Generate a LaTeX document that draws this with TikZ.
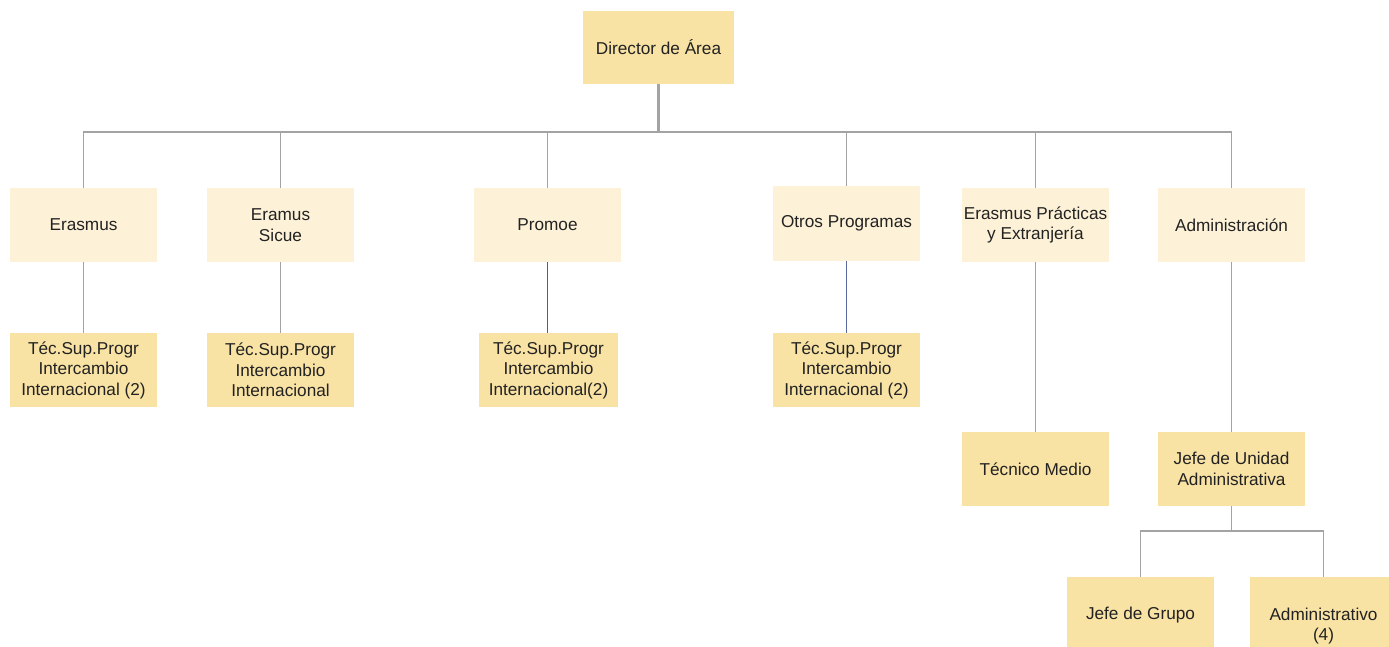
\documentclass[tikz,border=0pt]{standalone}
\usepackage{fontspec}
\setmainfont{Liberation Sans}
\definecolor{darkbox}{HTML}{F8E2A4}
\definecolor{lightbox}{HTML}{FDF2D7}
\definecolor{lineg}{HTML}{A3A3A3}
\definecolor{lineb}{HTML}{3D5FC4}
\definecolor{lineb2}{HTML}{5A6A9E}
\definecolor{txt}{HTML}{222222}
\begin{document}
\begin{tikzpicture}[x=1pt,y=-1pt,
  box/.style={inner sep=0pt, minimum width=147pt, minimum height=74pt, align=center, text=txt,
    font=\fontsize{17.2}{20.5}\selectfont},
  dbox/.style={box, fill=darkbox},
  lbox/.style={box, fill=lightbox},
  conn/.style={draw=lineg, line width=1.6pt},
  connb/.style={draw=lineb, line width=1.4pt},
  connb2/.style={draw=lineb2, line width=1.4pt}]
\useasboundingbox (0,0) rectangle (1389,647);
% top
\node[dbox, minimum width=151pt, minimum height=73pt] (dir) at (658.5,47.5) {Director de Área};
% row 1
\node[lbox] (era) at (83.5,225) {Erasmus};
\node[lbox] (sic) at (280.5,225) {Eramus\\Sicue};
\node[lbox] (pro) at (547.5,225) {Promoe};
\node[lbox] (otr) at (846.5,223.5) {Otros Programas};
\node[lbox] (pra) at (1035.5,225) {Erasmus Prácticas\\y Extranjería};
\node[lbox] (adm) at (1231.5,225) {Administración};
% row 2
\node[dbox] (t1) at (83.5,370) {Téc.Sup.Progr\\Intercambio\\Internacional (2)};
\node[dbox] (t2) at (280.5,370) {Téc.Sup.Progr\\Intercambio\\Internacional};
\node[dbox, minimum width=139pt] (t3) at (548.5,370) {Téc.Sup.Progr\\Intercambio\\Internacional(2)};
\node[dbox] (t4) at (846.5,370) {Téc.Sup.Progr\\Intercambio\\Internacional (2)};
% row 3
\node[dbox] (tm) at (1035.5,469) {Técnico Medio};
\node[dbox] (jua) at (1231.5,469) {Jefe de Unidad\\Administrativa};
% row 4
\node[dbox, minimum height=76pt] (jg) at (1140.5,615) {Jefe de Grupo};
\node[dbox, minimum height=98pt] (adv) at (1323.5,626) {Administrativo\\(4)};
% connectors
\coordinate (bus) at (658.5,132);
\draw[conn, line width=2.4pt] (dir.south) -- (bus);
\draw[conn] (bus) -| (era.north);
\draw[conn] (bus) -| (sic.north);
\draw[conn] (bus) -| (pro.north);
\draw[conn] (bus) -| (otr.north);
\draw[conn] (bus) -| (pra.north);
\draw[conn] (bus) -| (adm.north);
\draw[conn] (era.south) -- (era.south |- t1.north);
\draw[conn] (sic.south) -- (sic.south |- t2.north);
\draw[connb] (pro.south) -- (pro.south |- t3.north);
\draw[connb2] (otr.south) -- (otr.south |- t4.north);
\draw[conn] (pra.south) -- (tm.north);
\draw[conn] (adm.south) -- (jua.north);
\coordinate (bus2) at (1231.5,531);
\draw[conn] (jua.south) -- (bus2);
\draw[conn] (bus2) -| (jg.north);
\draw[conn] (bus2) -| (adv.north);
\end{tikzpicture}
\end{document}
